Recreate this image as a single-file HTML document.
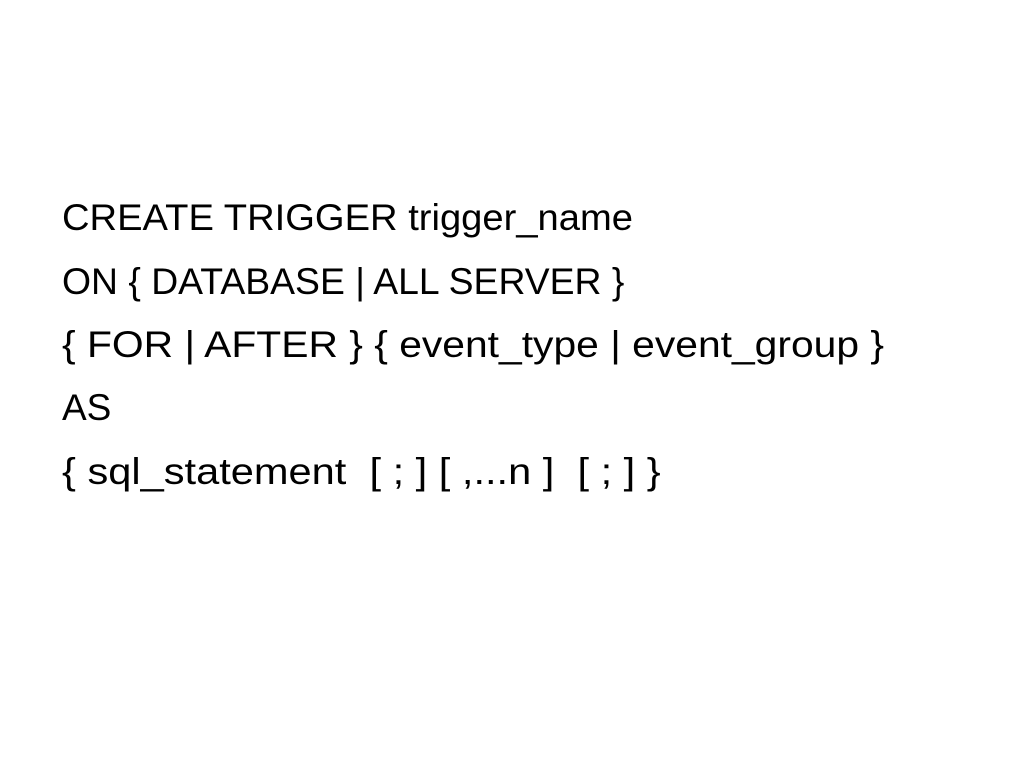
<!DOCTYPE html>
<html>
<head>
<style>
html,body{margin:0;padding:0;background:#fff;}
body{width:1024px;height:768px;position:relative;overflow:hidden;}
.t{position:absolute;left:62px;font-family:"Liberation Sans",sans-serif;font-size:37px;line-height:44px;color:#000;white-space:pre;transform-origin:0 0;}
</style>
</head>
<body>
<div class="t" style="top:196px;transform:scaleX(1.031)">CREATE TRIGGER trigger_name</div>
<div class="t" style="top:260px;transform:scaleX(1.009)">ON { DATABASE | ALL SERVER }</div>
<div class="t" style="top:323px;transform:scaleX(1.103)">{ FOR | AFTER } { event_type | event_group }</div>
<div class="t" style="top:386px;">AS</div>
<div class="t" style="top:450px;transform:scaleX(1.124)">{ sql_statement  [ ; ] [ ,...n ]  [ ; ] }</div>
</body>
</html>
